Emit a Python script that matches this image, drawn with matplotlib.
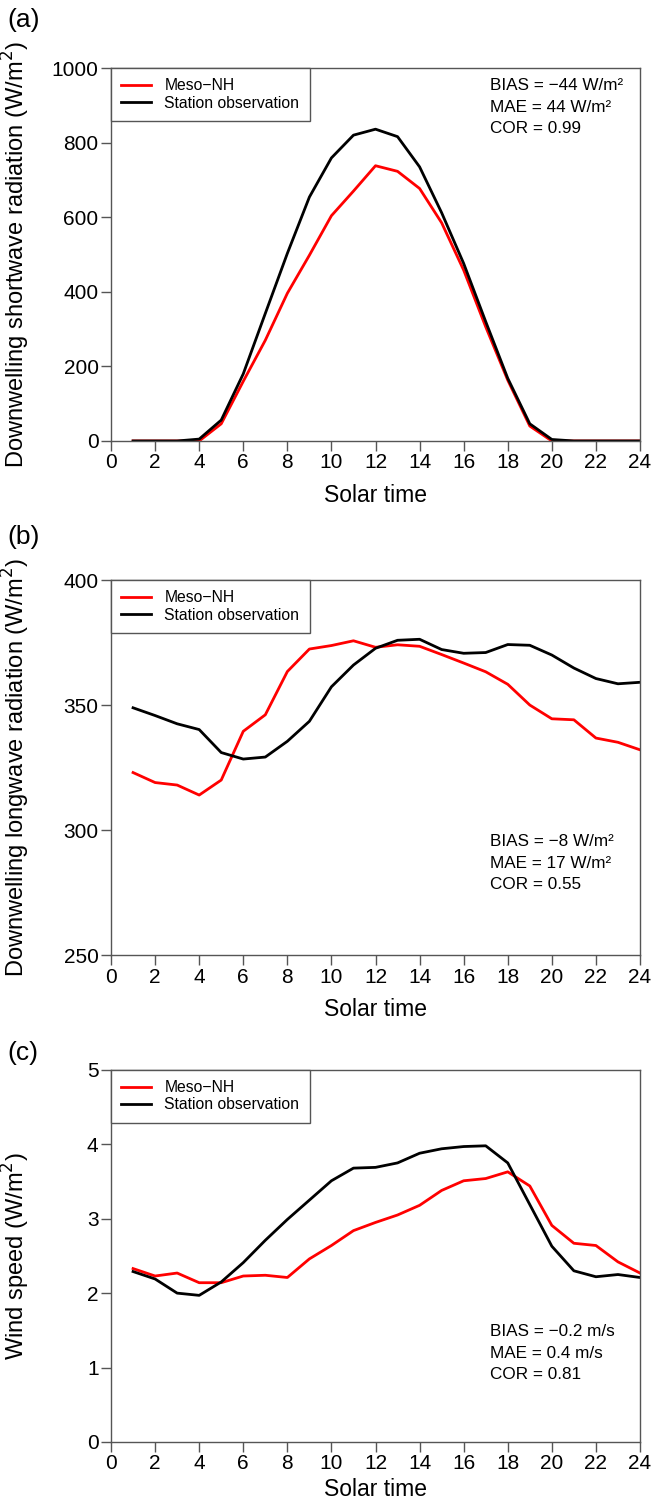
import matplotlib
matplotlib.use('Agg')
import matplotlib.pyplot as plt

plt.rcParams['font.family'] = ['Liberation Sans', 'DejaVu Sans']
plt.rcParams['axes.unicode_minus'] = True

hours = list(range(1, 25))

# (a) downwelling shortwave radiation
sw_model = [0, 0, 0, 0, 46, 160, 270, 396, 498, 604, 670, 738,
            723, 677, 585, 458, 306, 163, 40, 0, 0, 0, 0, 0]
sw_obs = [0, 0, 0, 5, 56, 180, 342, 503, 654, 759, 820, 836,
          816, 735, 612, 476, 320, 168, 46, 4, 0, 0, 0, 0]

# (b) downwelling longwave radiation
lw_model = [323, 319, 318, 314, 320, 339.5, 346.1, 363.4, 372.4, 373.8, 375.7, 373.1,
            374.1, 373.5, 370.2, 366.8, 363.3, 358.3, 350, 344.5, 344.1, 336.8, 335.1, 332.1]
lw_obs = [348.9, 345.8, 342.5, 340.2, 331, 328.4, 329.2, 335.5, 343.5, 357.3, 366, 372.7,
          375.9, 376.3, 372.2, 370.7, 371, 374.2, 373.9, 370, 364.8, 360.6, 358.5, 359.1]

# (c) wind speed
ws_model = [2.33, 2.23, 2.27, 2.14, 2.14, 2.23, 2.24, 2.21, 2.46, 2.64, 2.84, 2.95,
            3.05, 3.18, 3.38, 3.51, 3.54, 3.63, 3.44, 2.91, 2.67, 2.64, 2.42, 2.27]
ws_obs = [2.29, 2.19, 2.00, 1.97, 2.15, 2.41, 2.71, 2.99, 3.25, 3.51, 3.68, 3.69,
          3.75, 3.88, 3.94, 3.97, 3.98, 3.75, 3.19, 2.63, 2.30, 2.22, 2.25, 2.21]

panels = [
    {'tag': '(a)', 'model': sw_model, 'obs': sw_obs, 'ylim': (0, 1000),
     'yticks': [0, 200, 400, 600, 800, 1000],
     'ylabel': 'Downwelling shortwave radiation (W/m$^2$)',
     'stats': 'BIAS = \u221244 W/m\u00b2\nMAE = 44 W/m\u00b2\nCOR = 0.99',
     'stats_y': 0.895, 'tag_y': 0.9867, 'xpad': 8,
     'rect': [0.1695, 0.7070, 0.8076, 0.2478]},
    {'tag': '(b)', 'model': lw_model, 'obs': lw_obs, 'ylim': (250, 400),
     'yticks': [250, 300, 350, 400],
     'ylabel': 'Downwelling longwave radiation (W/m$^2$)',
     'stats': 'BIAS = \u22128 W/m\u00b2\nMAE = 17 W/m\u00b2\nCOR = 0.55',
     'stats_y': 0.245, 'tag_y': 0.6432, 'xpad': 8,
     'rect': [0.1695, 0.3654, 0.8076, 0.2492]},
    {'tag': '(c)', 'model': ws_model, 'obs': ws_obs, 'ylim': (0, 5),
     'yticks': [0, 1, 2, 3, 4, 5],
     'ylabel': 'Wind speed (W/m$^2$)',
     'stats': 'BIAS = \u22120.2 m/s\nMAE = 0.4 m/s\nCOR = 0.81',
     'stats_y': 0.239, 'tag_y': 0.3003, 'xpad': 3,
     'rect': [0.1695, 0.0419, 0.8076, 0.2472]},
]

fig = plt.figure(figsize=(6.55, 15.05), dpi=100)

for p in panels:
    ax = fig.add_axes(p['rect'])
    ax.plot(hours, p['model'], color='#ff0000', lw=2, label='Meso\u2212NH')
    ax.plot(hours, p['obs'], color='black', lw=2, label='Station observation')
    ax.set_xlim(0, 24)
    ax.set_ylim(*p['ylim'])
    ax.set_xticks(range(0, 25, 2))
    ax.set_yticks(p['yticks'])
    ax.tick_params(direction='out', length=7, width=1, labelsize=15, colors='#555555',
                   labelcolor='black', pad=2)
    for s in ax.spines.values():
        s.set_color('#555555')
        s.set_linewidth(1)
    ax.set_xlabel('Solar time', fontsize=16.5, labelpad=p['xpad'])
    ax.set_ylabel(p['ylabel'], fontsize=17)
    ax.yaxis.set_label_coords(-0.149, 0.5)

    leg = ax.legend(loc='upper left', borderaxespad=0, fancybox=False, fontsize=11.3,
                    handlelength=1.9, handletextpad=0.85, framealpha=1,
                    borderpad=0.65, labelspacing=0.15)
    leg.get_frame().set_edgecolor('#555555')
    leg.get_frame().set_linewidth(1)

    ax.text(0.717, p['stats_y'], p['stats'], transform=ax.transAxes, fontsize=12.3,
            va='center', ha='left', linespacing=1.55)

    fig.text(0.012, p['tag_y'], p['tag'], fontsize=19, va='center', ha='left')

fig.savefig('out.png', dpi=100)
